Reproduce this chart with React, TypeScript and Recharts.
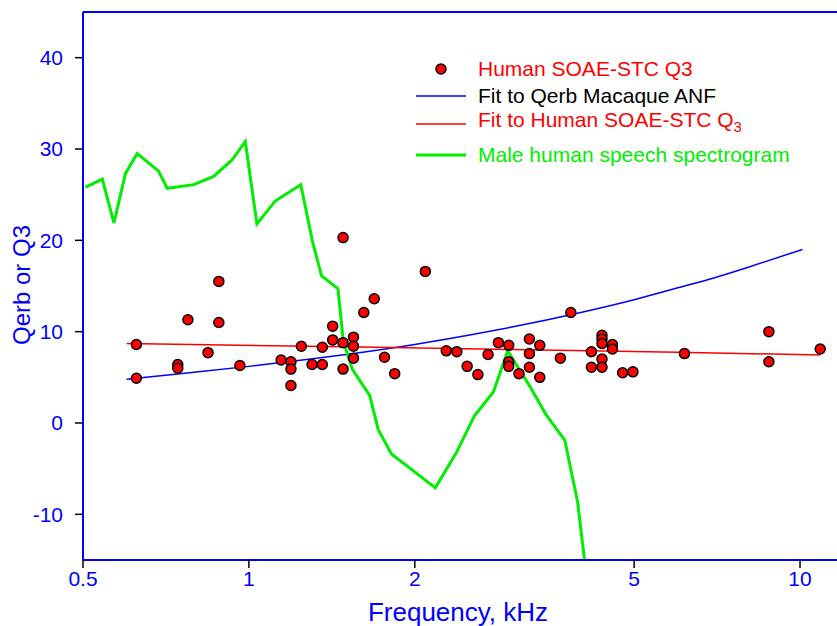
import { ComposedChart, Line, Scatter, XAxis, YAxis, ReferenceLine } from 'recharts'

// Human SOAE-STC Q3 points (frequency kHz, Q3)
const soaeFreq = [
  0.625, 0.625, 0.743, 0.743, 0.775, 0.843, 0.882, 0.882, 0.963, 1.144,
  1.192, 1.192, 1.192, 1.245, 1.302, 1.359, 1.359, 1.419, 1.419, 1.482,
  1.482, 1.482, 1.548, 1.548, 1.548, 1.616, 1.688, 1.762, 1.839, 2.09,
  2.281, 2.384, 2.489, 2.603, 2.716, 2.836, 2.961, 2.961, 2.961, 3.091,
  3.228, 3.228, 3.228, 3.371, 3.371, 3.674, 3.838, 4.183, 4.183, 4.372,
  4.372, 4.372, 4.372, 4.372, 4.566, 4.566, 4.765, 4.975, 6.17, 8.78,
  8.78, 10.88,
]
const soaeQ3 = [
  8.6, 4.9, 6.4, 6.0, 11.3, 7.7, 15.5, 11.0, 6.3, 6.9,
  6.7, 5.9, 4.1, 8.4, 6.4, 8.3, 6.4, 10.6, 9.1, 20.3,
  8.8, 5.9, 9.4, 8.4, 7.1, 12.1, 13.6, 7.2, 5.4, 16.6,
  7.9, 7.8, 6.2, 5.3, 7.5, 8.8, 8.5, 6.7, 6.2, 5.4,
  9.2, 7.6, 6.1, 8.5, 5.0, 7.1, 12.1, 7.8, 6.1, 9.6,
  9.2, 8.7, 7.0, 6.1, 8.6, 8.1, 5.5, 5.6, 7.6, 10.0,
  6.7, 8.1,
]

// Fit to Qerb Macaque ANF
const qerbFreq = [0.6, 0.75, 1.0, 1.25, 1.5, 2.0, 2.5, 3.0, 4.0, 5.0, 6.0, 7.0, 8.0, 10.1]
const qerbFit = [4.8, 5.4, 6.2, 6.9, 7.5, 8.6, 9.6, 10.5, 12.1, 13.5, 14.8, 15.9, 17.0, 19.0]

// Fit to Human SOAE-STC Q3
const q3FitFreq = [0.6, 1.5, 3.0, 6.0, 10.88]
const q3Fit = [8.7, 8.35, 8.05, 7.75, 7.45]

// Male human speech spectrogram
const speechFreq = [
  0.505, 0.542, 0.569, 0.597, 0.627, 0.685, 0.711, 0.794, 0.863, 0.932,
  0.985, 1.034, 1.116, 1.242, 1.305, 1.355, 1.451, 1.483, 1.54, 1.657,
  1.716, 1.814, 2.179, 2.377, 2.566, 2.777, 2.949, 3.227, 3.458, 3.743,
  3.947, 4.12,
]
const speechLevel = [
  25.8, 26.7, 21.9, 27.3, 29.5, 27.6, 25.7, 26.1, 27.0, 28.8,
  30.8, 21.8, 24.3, 26.1, 19.8, 16.1, 14.7, 9.0, 5.9, 3.0,
  -0.7, -3.4, -7.1, -3.3, 0.8, 3.4, 7.9, 4.1, 0.95, -1.9,
  -8.6, -18,
]

const xTicks = [0.5, 1, 2, 5, 10]
const yTicks = [-10, 0, 10, 20, 30, 40]

const soaeData = soaeFreq.map((f, i) => ({ f, v: soaeQ3[i] }))
const qerbData = qerbFreq.map((f, i) => ({ f, v: qerbFit[i] }))
const q3FitData = q3FitFreq.map((f, i) => ({ f, v: q3Fit[i] }))
const speechData = speechFreq.map((f, i) => ({ f, v: speechLevel[i] }))

const BLUE = '#0000ff'
const RED = '#ff0000'
const GREEN = '#00ee00'
const FONT = '"Liberation Sans", Arial, sans-serif'

const Dot = (p: any) => (
  <circle cx={p.cx} cy={p.cy} r={5} fill={RED} stroke="#000" strokeWidth={1.5} />
)

function LegendBox() {
  const row = { position: 'absolute' as const, left: 0, height: 24, display: 'flex', alignItems: 'center' }
  const txt = { position: 'absolute' as const, left: 62, fontSize: 21, whiteSpace: 'nowrap' as const, lineHeight: '24px' }
  return (
    <div style={{ position: 'absolute', left: 416, top: 57, width: 400, height: 120, fontFamily: FONT }}>
      <div style={{ ...row, top: 0, width: 60 }}>
        <svg width={50} height={24}><circle cx={25} cy={12} r={5} fill={RED} stroke="#000" strokeWidth={1.5} /></svg>
        <span style={{ ...txt, color: RED }}>Human SOAE-STC Q3</span>
      </div>
      <div style={{ ...row, top: 27, width: 60 }}>
        <svg width={50} height={24}><line x1={0} x2={50} y1={12} y2={12} stroke={BLUE} strokeWidth={1.5} /></svg>
        <span style={{ ...txt, color: '#000' }}>Fit to Qerb Macaque ANF</span>
      </div>
      <div style={{ ...row, top: 55, width: 60 }}>
        <svg width={50} height={24}><line x1={0} x2={50} y1={12} y2={12} stroke={RED} strokeWidth={1.5} /></svg>
        <span style={{ ...txt, color: RED, top: -4 }}>
          Fit to Human SOAE-STC Q<sub style={{ fontSize: 15, verticalAlign: -5 }}>3</sub>
        </span>
      </div>
      <div style={{ ...row, top: 86, width: 60 }}>
        <svg width={50} height={24}><line x1={0} x2={50} y1={12} y2={12} stroke={GREEN} strokeWidth={3} /></svg>
        <span style={{ ...txt, color: GREEN }}>Male human speech spectrogram</span>
      </div>
    </div>
  )
}

export default function App() {
  return (
    <div style={{ position: 'absolute', left: 0, top: 0, width: 837, height: 626, background: '#fff', fontFamily: FONT }}>
      <ComposedChart width={837} height={626} margin={{ top: 12, right: 0, left: 0, bottom: 0 }}>
        <XAxis
          dataKey="f"
          type="number"
          scale="log"
          domain={[0.5, 11.67]}
          allowDataOverflow
          ticks={xTicks}
          height={66}
          tickSize={8}
          tickMargin={3}
          axisLine={{ stroke: BLUE, strokeWidth: 2 }}
          tickLine={{ stroke: '#000', strokeWidth: 1.5 }}
          tick={{ fill: BLUE, fontSize: 21, fontFamily: FONT }}
        />
        <YAxis
          dataKey="v"
          type="number"
          domain={[-15, 45]}
          allowDataOverflow
          ticks={yTicks}
          width={83}
          tickSize={8}
          tickMargin={12}
          axisLine={{ stroke: BLUE, strokeWidth: 2 }}
          tickLine={{ stroke: '#000', strokeWidth: 1.5 }}
          tick={{ fill: BLUE, fontSize: 21, fontFamily: FONT }}
        />
        <ReferenceLine y={45} stroke={BLUE} strokeWidth={2} />
        <Line data={qerbData} dataKey="v" type="monotone" stroke={BLUE} strokeWidth={1.5} dot={false} isAnimationActive={false} />
        <Line data={q3FitData} dataKey="v" type="linear" stroke={RED} strokeWidth={1.5} dot={false} isAnimationActive={false} />
        <Scatter data={soaeData} dataKey="v" shape={Dot} isAnimationActive={false} />
        <Line data={speechData} dataKey="v" type="linear" stroke={GREEN} strokeWidth={3} dot={false} isAnimationActive={false} />
      </ComposedChart>
      <div
        style={{
          position: 'absolute',
          left: 22,
          top: 285,
          transform: 'translate(-50%, -50%) rotate(-90deg)',
          color: BLUE,
          fontSize: 24,
          whiteSpace: 'nowrap',
        }}
      >
        Qerb or Q3
      </div>
      <div
        style={{
          position: 'absolute',
          left: 458,
          top: 612,
          transform: 'translate(-50%, -50%)',
          color: BLUE,
          fontSize: 26,
          whiteSpace: 'nowrap',
        }}
      >
        Frequency, kHz
      </div>
      <LegendBox />
    </div>
  )
}
